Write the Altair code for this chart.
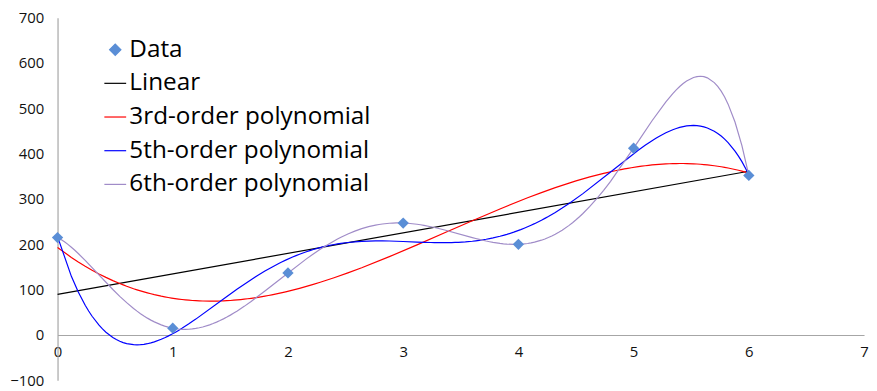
import altair as alt
import pandas as pd

# ---- data ----
x_vals = [0, 1, 2, 3, 4, 5, 6]
y_vals = [215, 15, 137, 247, 200, 412, 352]
series_names = ["Data", "Linear", "3rd-order polynomial",
                "5th-order polynomial", "6th-order polynomial"]
series_colors = ["#5A8ED6", "#000000", "#FF0000", "#0000FF", "#A08CC8"]
series_shapes = ["diamond", "stroke", "stroke", "stroke", "stroke"]
series_sizes = [130, 484, 484, 484, 484]
fit_orders = [1, 3, 5, 6]
x_ticks = list(range(0, 8))
y_ticks = list(range(-100, 701, 100))

df = pd.DataFrame({"x": x_vals, "y": y_vals})

W, H = 814, 366
FONT = "Open Sans"

legend = alt.Legend(title=None, orient="none", legendX=46, legendY=20,
                    labelFont=FONT, labelFontSize=24.5, labelColor="#000000",
                    rowPadding=9, labelOffset=2, padding=0, labelLimit=500,
                    symbolStrokeWidth=1.2)

xs = alt.Scale(domain=[0, 7], nice=False, zero=False)
ys = alt.Scale(domain=[-100, 700], nice=False)
xaxis = alt.Axis(values=x_ticks, title=None, grid=False, ticks=False,
                 domainColor="#A6A6A6", domainWidth=1.2, labelFont=FONT,
                 labelFontSize=15, labelColor="#111111", labelPadding=10,
                 offset=-H * 100 / 800, labelFlush=False, format="d")
yaxis = alt.Axis(values=y_ticks, title=None, grid=False, ticks=False,
                 domainColor="#A6A6A6", domainWidth=1.2, labelFont=FONT,
                 labelFontSize=15, labelColor="#111111", labelPadding=14,
                 labelFlush=False, format="d")

stroke_scale = alt.Scale(domain=series_names, range=series_colors)

layers = []
for name, order in zip(series_names[1:], fit_orders):
    if order == 1:
        base = alt.Chart(df).transform_regression("x", "y", method="linear",
                                                  extent=[0, 6])
    else:
        base = alt.Chart(df).transform_regression("x", "y", method="poly",
                                                  order=order, extent=[0, 6])
    layer = base.transform_calculate(series=f"'{name}'").mark_line(
        strokeWidth=1.2
    ).encode(
        x=alt.X("x:Q", scale=xs, axis=xaxis),
        y=alt.Y("y:Q", scale=ys, axis=yaxis),
        stroke=alt.Stroke("series:N", scale=stroke_scale, legend=legend),
    )
    layers.append(layer)

points = alt.Chart(df).transform_calculate(series="'Data'").mark_point(
    filled=True, opacity=1
).encode(
    x=alt.X("x:Q", scale=xs, axis=xaxis),
    y=alt.Y("y:Q", scale=ys, axis=yaxis),
    fill=alt.Fill("series:N", scale=alt.Scale(domain=series_names,
                                              range=series_colors),
                  legend=legend),
    shape=alt.Shape("series:N", scale=alt.Scale(domain=series_names,
                                                range=series_shapes),
                    legend=legend),
    size=alt.Size("series:N", scale=alt.Scale(type="ordinal",
                                              domain=series_names,
                                              range=series_sizes),
                  legend=legend),
)
layers.append(points)

chart = alt.layer(*layers).properties(
    width=W, height=H, autosize="none",
    padding={"left": 50, "top": 8, "right": 5, "bottom": 9},
).configure_view(stroke=None)

chart.save("out.html", embed_options={"renderer": "svg", "actions": False})
